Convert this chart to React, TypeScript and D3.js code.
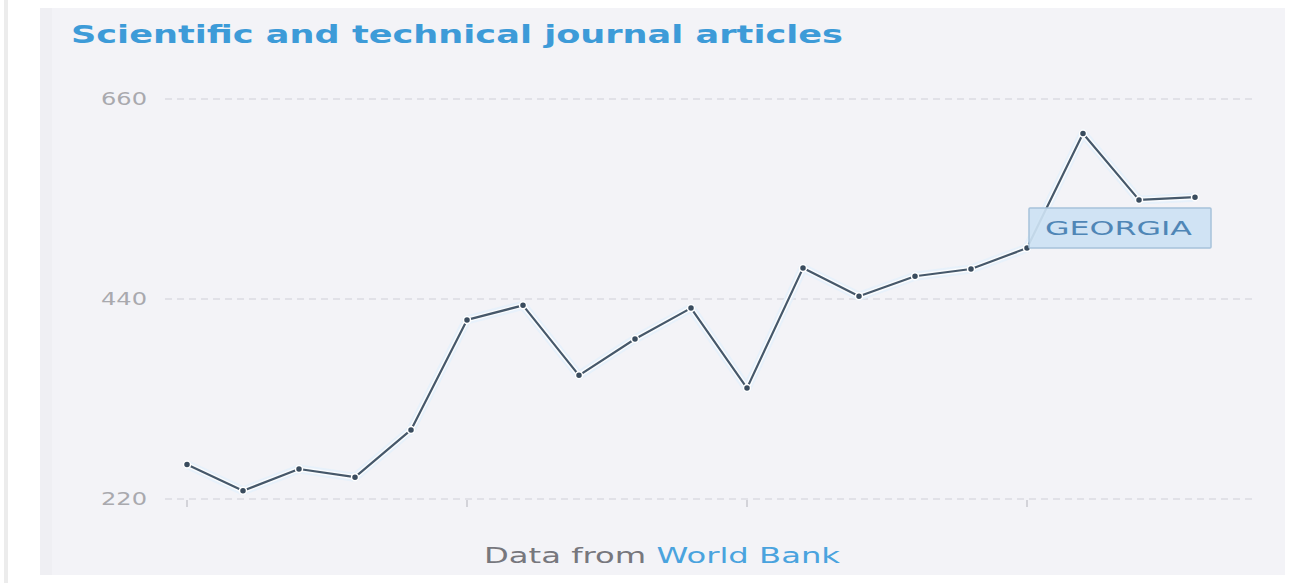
import React from "react";
import * as d3 from "d3";

const years: string[] = ["2000","2001","2002","2003","2004","2005","2006","2007","2008","2009","2010","2011","2012","2013","2014","2015","2016","2017","2018"];
const articles: number[] = [258, 229, 253, 244, 296, 417, 433, 356, 396, 430, 342, 474, 443, 465, 473, 496, 622, 549, 552];
const yTicks: number[] = [220, 440, 660];
const xTickYears: string[] = ["2000", "2005", "2010", "2015"];
const seriesLabel = "GEORGIA";
const title = "Scientific and technical journal articles";

const W = 1293;
const H = 583;

export default function App() {
  const x = d3.scalePoint<string>().domain(years).range([187, 1195]);
  const y = d3.scaleLinear().domain([220, 660]).range([499, 99]);
  const line = d3
    .line<number>()
    .x((_, i) => x(years[i]) as number)
    .y((d) => y(d));
  const path = line(articles) || "";

  return (
    <div style={{ position: "absolute", left: 0, top: 0, width: W, height: H, background: "#fff" }}>
      <svg width={W} height={H} style={{ display: "block" }}>
        <rect x={0} y={0} width={W} height={H} fill="#ffffff" />
        <rect x={4} y={0} width={4} height={H} fill="#ececec" />
        <rect x={40} y={8} width={1245} height={567} fill="#f3f3f7" />
        <rect x={40} y={8} width={12} height={567} fill="#efeff3" />

        <text
          x={71}
          y={43}
          fontFamily="'DejaVu Sans', Verdana, sans-serif"
          fontWeight="bold"
          fontSize={25}
          fill="#3d9bd8"
          textLength={772}
          lengthAdjust="spacingAndGlyphs"
        >
          {title}
        </text>

        {yTicks.map((t) => (
          <g key={t}>
            <line
              x1={165}
              x2={1253}
              y1={y(t)}
              y2={y(t)}
              stroke="#dcdce2"
              strokeWidth={1.5}
              strokeDasharray="7,5"
            />
            <text
              x={147}
              y={y(t)}
              dy="0.35em"
              textAnchor="end"
              fontFamily="'DejaVu Sans', Verdana, sans-serif"
              fontSize={17}
              fill="#a9a9ae"
              textLength={46}
              lengthAdjust="spacingAndGlyphs"
            >
              {t}
            </text>
          </g>
        ))}

        {xTickYears.map((yr) => (
          <line
            key={yr}
            x1={x(yr) as number}
            x2={x(yr) as number}
            y1={y(220) + 1}
            y2={y(220) + 8}
            stroke="#c8c8cf"
            strokeWidth={1.5}
          />
        ))}

        <path d={path} fill="none" stroke="#e4f0fb" strokeWidth={9} strokeOpacity={0.8} strokeLinejoin="round" />
        <path d={path} fill="none" stroke="#ffffff" strokeWidth={5} strokeOpacity={0.8} strokeLinejoin="round" />
        <path d={path} fill="none" stroke="#46586a" strokeWidth={2.2} strokeLinejoin="round" />
        {articles.map((v, i) => (
          <circle
            key={i}
            cx={x(years[i]) as number}
            cy={y(v)}
            r={3.5}
            fill="#3a4c5e"
            stroke="#ffffff"
            strokeWidth={1.5}
          />
        ))}

        <rect
          x={1029}
          y={208}
          width={182}
          height={40}
          fill="#cde2f3"
          fillOpacity={0.92}
          stroke="#a7c2da"
          strokeWidth={1.5}
          rx={1}
        />
        <text
          x={1045}
          y={228}
          dy="0.36em"
          fontFamily="'DejaVu Sans', Verdana, sans-serif"
          fontSize={20}
          fill="#4f86b6"
          textLength={147}
          lengthAdjust="spacingAndGlyphs"
        >
          {seriesLabel}
        </text>

        <text
          x={484}
          y={555}
          dy="0.35em"
          fontFamily="'DejaVu Sans', Verdana, sans-serif"
          fontSize={22}
          textLength={356}
          lengthAdjust="spacingAndGlyphs"
        >
          <tspan fill="#77777d">Data from </tspan>
          <tspan fill="#4aa3de">World Bank</tspan>
        </text>
      </svg>
    </div>
  );
}
